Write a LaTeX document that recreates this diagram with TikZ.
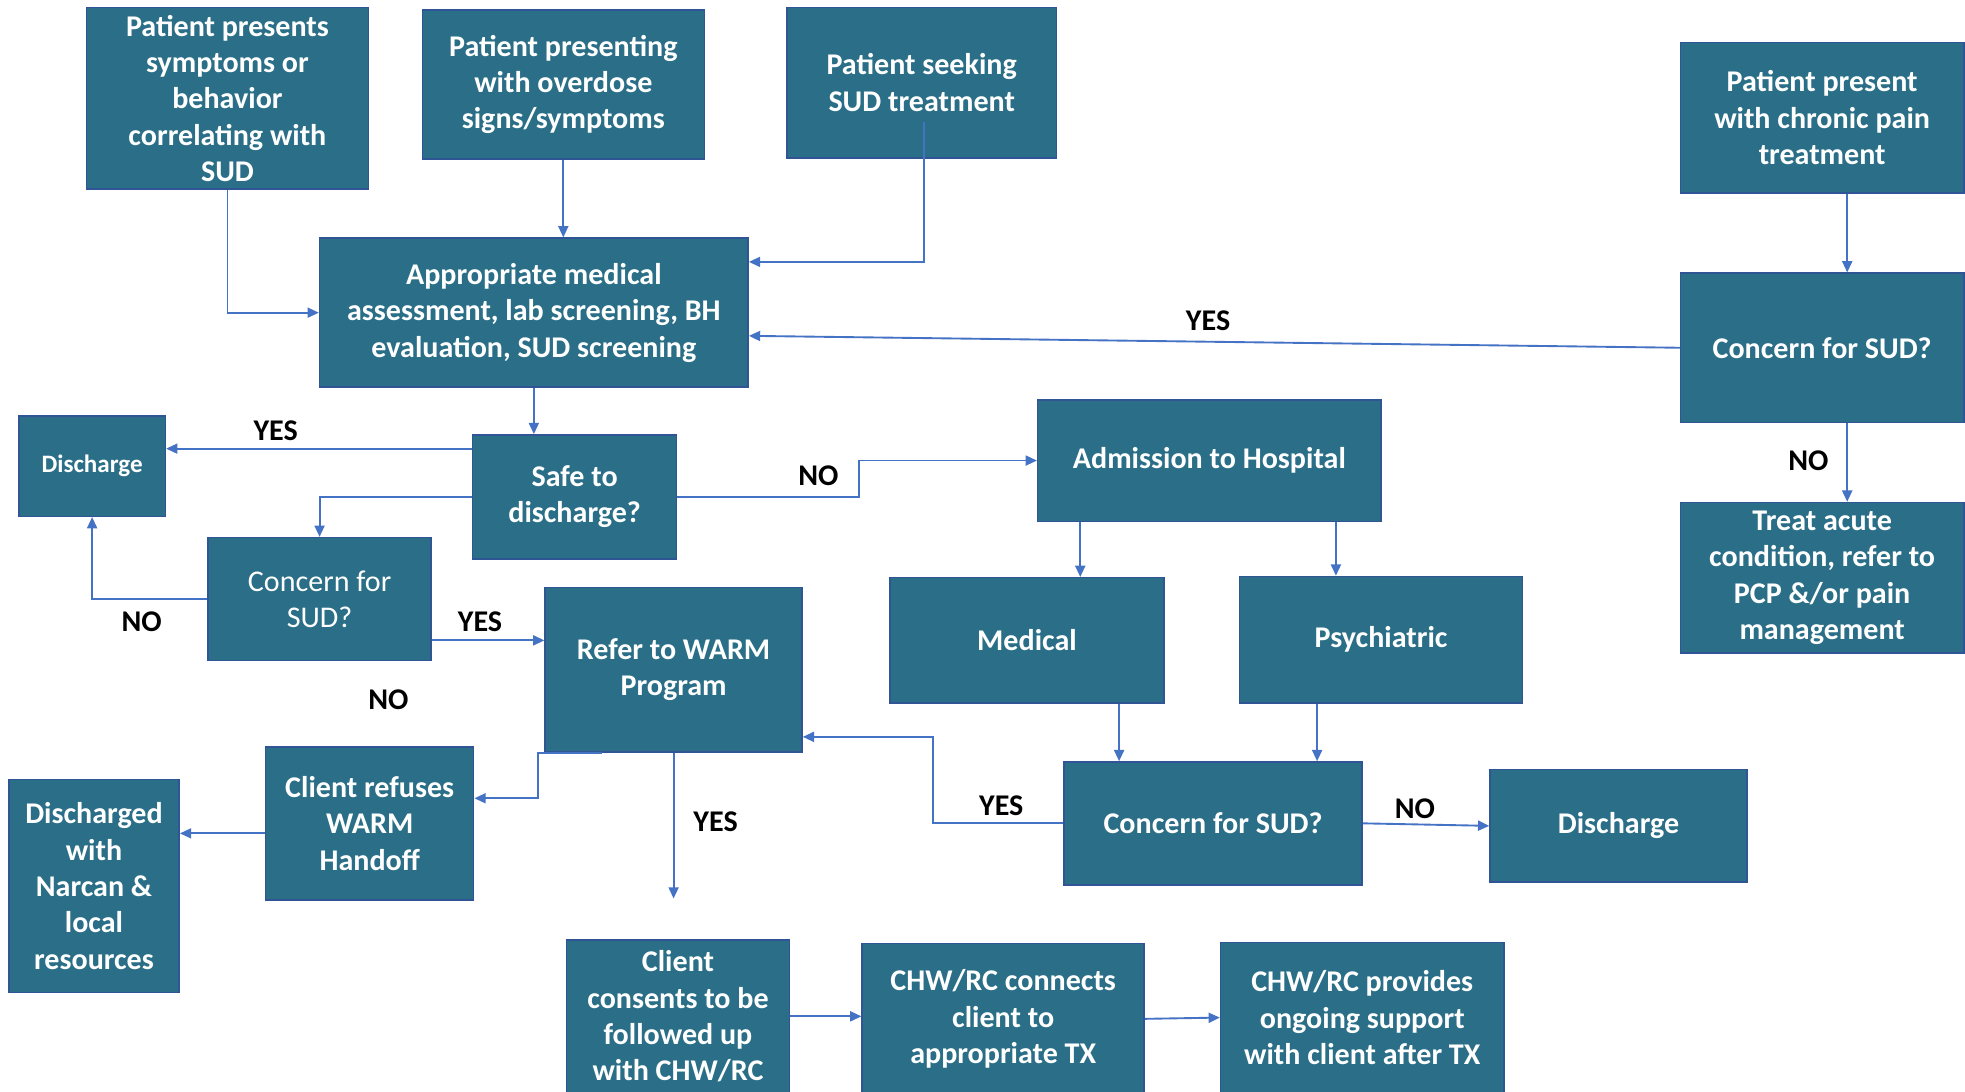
\documentclass[tikz,border=0pt]{standalone}
\usepackage{fontspec}
\setmainfont{Carlito}
\usetikzlibrary{arrows.meta}
\definecolor{boxfill}{HTML}{2A6F87}
\definecolor{boxline}{HTML}{2F5597}
\definecolor{lineblue}{HTML}{4472C4}
\tikzset{
  box/.style={draw=boxline, line width=0.6pt, fill=boxfill, text=white, inner sep=0pt,
    align=center, font=\fontsize{12}{14.5}\selectfont\bfseries},
  sz/.style 2 args={minimum width=#1*0.5pt, minimum height=#2*0.5pt},
  conn/.style={draw=lineblue, line width=0.75pt},
  arr/.style={conn, -{Triangle[length=4.5pt,width=4pt]}},
  lbl/.style={font=\fontsize{12}{14.5}\selectfont\bfseries, text=black, inner sep=0pt}
}
\begin{document}
\begin{tikzpicture}[x=0.5pt, y=-0.5pt]
\useasboundingbox (0,0) rectangle (1568,870.6);
\clip (0,0) rectangle (1568,870.6);
% boxes
\node[box, sz={225}{145}] (B1) at (181.5,78.5) {Patient presents\\symptoms or\\behavior\\correlating with\\SUD};
\node[box, sz={225}{119}] (B2) at (449.5,67.5) {Patient presenting\\with overdose\\signs/symptoms};
\node[box, sz={215}{120}] (B3) at (735.5,66) {Patient seeking\\SUD treatment};
\node[box, sz={226}{120}] (B4) at (1454,94) {Patient present\\with chronic pain\\treatment};
\node[box, sz={342}{119}] (Assess) at (426,249.5) {Appropriate medical\\assessment, lab screening, BH\\evaluation, SUD screening};
\node[box, sz={226}{119}] (ConcernR) at (1454,277.5) {Concern for SUD?};
\node[box, sz={226}{120}] (Treat) at (1454,461) {Treat acute\\condition, refer to\\PCP \&/or pain\\management};
\node[box, sz={117}{80}, font=\fontsize{10}{12}\selectfont\bfseries] (Dis1) at (73.5,372) {Discharge};
\node[box, sz={163}{99}] (Safe) at (458.5,396.5) {Safe to\\discharge?};
\node[box, sz={274}{97}] (Adm) at (965,367.5) {Admission to Hospital};
\node[box, sz={178}{98}, font=\fontsize{12}{14.5}\selectfont] (ConcernL) at (255,478) {Concern for\\SUD?};
\node[box, sz={205}{131}] (Refer) at (537.5,534.5) {Refer to WARM\\Program};
\node[box, sz={219}{100}] (Medical) at (819.5,511) {Medical};
\node[box, sz={226}{101}] (Psych) at (1102,510.5) {Psychiatric};
\node[box, sz={166}{122}] (Refuses) at (295,657) {Client refuses\\WARM\\Handoff};
\node[box, sz={136}{170}] (Narcan) at (75,707) {Discharged\\with\\Narcan \&\\local\\resources};
\node[box, sz={238}{98}] (ConcernM) at (968,657) {Concern for SUD?};
\node[box, sz={205}{90}] (Dis2) at (1291.5,659) {Discharge};
\node[box, sz={178}{122}] (Consents) at (541,811) {Client\\consents to be\\followed up\\with CHW/RC};
\node[box, sz={225}{120}] (CHWc) at (800.5,813) {CHW/RC connects\\client to\\appropriate TX};
\node[box, sz={226}{120}] (CHWp) at (1087,812) {CHW/RC provides\\ongoing support\\with client after TX};
% helper coordinates
\coordinate (s1) at ([yshift=19.25pt]Safe.west);
\coordinate (cl) at ([yshift=-16.5pt]ConcernL.east);
\coordinate (mt) at ([xshift=21.25pt]Medical.north);
\coordinate (psn) at ([xshift=-18pt]Psych.north);
\coordinate (mb) at ([xshift=36.75pt]Medical.south);
\coordinate (pb) at ([xshift=-25.5pt]Psych.south);
\coordinate (re) at ([yshift=-26.75pt]Refer.east);
\coordinate (rb) at ([xshift=-28.75pt]Refer.south);
\coordinate (rfe) at ([yshift=10pt]Refuses.east);
\coordinate (rw) at ([yshift=-4pt]Refuses.west);
\coordinate (fe) at (537.5,717);
\coordinate (b4s) at ([xshift=10pt]B4.south);
\coordinate (crs) at ([xshift=10pt]ConcernR.south);
\coordinate (b3in) at ([xshift=0.75pt,yshift=-15.5pt]B3.center);
% connectors
\draw[arr] (B1.south) |- (Assess.west);
\draw[arr] (B2.south) -- (B2.south |- Assess.north);
\draw[arr] (b3in) |- ([yshift=20.25pt]Assess.east);
\draw[arr] (b4s) -- (b4s |- ConcernR.north);
\draw[arr] (ConcernR.west) -- ([yshift=-9.25pt]Assess.east);
\draw[arr] (crs) -- (crs |- Treat.north);
\draw[arr] (Assess.south) -- (Assess.south |- Safe.north);
\draw[arr] (s1) -- (s1 -| Dis1.east);
\draw[arr] (Safe.west) -| (ConcernL.north);
\draw[arr] (Safe.east) -- ++(145,0) |- (Adm.west);
\draw[arr] (ConcernL.west) -| (Dis1.south);
\draw[arr] (cl) -- (cl -| Refer.west);
\draw[arr] (mt |- Adm.south) -- (mt);
\draw[arr] (psn |- Adm.south) -- (psn);
\draw[arr] (mb) -- (mb |- ConcernM.north);
\draw[arr] (pb) -- (pb |- ConcernM.north);
\draw[arr] (ConcernM.west) -- ++(-104,0) |- (re);
\draw[arr] (ConcernM.east) -- (Dis2.west);
\draw[arr] (rb) -- ++(-51,0) |- (rfe);
\draw[arr] (Refer.south) -- (fe);
\draw[arr] (rw) -- (rw -| Narcan.east);
\draw[arr] (Consents.east) -- (Consents.east -| CHWc.west);
\draw[arr] (CHWc.east) -- (CHWp.west);
% labels
\node[lbl] (l1) at (964,256) {YES};
\node[lbl] (l2) at (1443,368) {NO};
\node[lbl] (l3) at (220,344) {YES};
\node[lbl] (l4) at (653,380) {NO};
\node[lbl] (l5) at (113,496) {NO};
\node[lbl] (l6) at (383,496) {YES};
\node[lbl] (l7) at (310,558) {NO};
\node[lbl] (l8) at (799,643) {YES};
\node[lbl] (l9) at (1129,645) {NO};
\node[lbl] (l10) at (571,656) {YES};
\end{tikzpicture}
\end{document}
